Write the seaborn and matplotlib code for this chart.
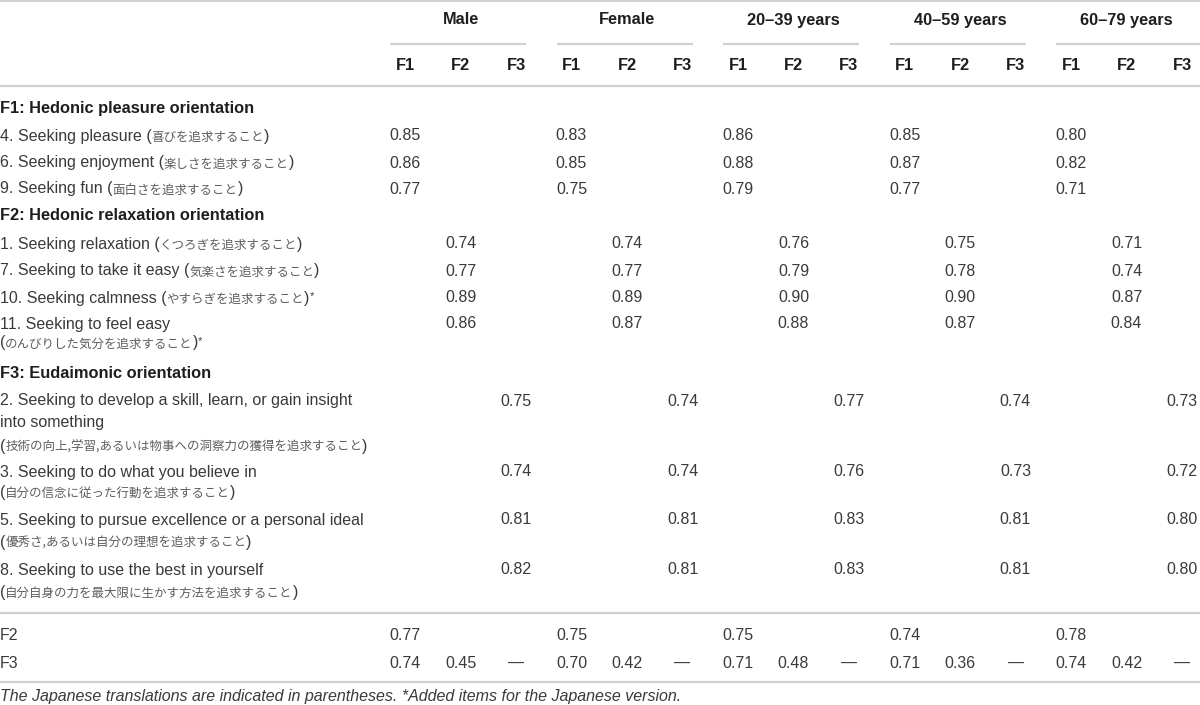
import matplotlib
matplotlib.use("Agg")
import matplotlib.pyplot as plt
import seaborn as sns

# table content
groups = ["Male", "Female", "20–39 years", "40–59 years", "60–79 years"]
factors = ["F1", "F2", "F3"]
sections = ["F1: Hedonic pleasure orientation",
            "F2: Hedonic relaxation orientation",
            "F3: Eudaimonic orientation"]

f1_items = ["4. Seeking pleasure", "6. Seeking enjoyment", "9. Seeking fun"]
f1_jp = ["喜びを追求すること", "楽しさを追求すること", "面白さを追求すること"]
f1_added = [False, False, False]
f1_load = [[0.85, 0.83, 0.86, 0.85, 0.80],
           [0.86, 0.85, 0.88, 0.87, 0.82],
           [0.77, 0.75, 0.79, 0.77, 0.71]]

f2_items = ["1. Seeking relaxation", "7. Seeking to take it easy",
            "10. Seeking calmness", "11. Seeking to feel easy"]
f2_jp = ["くつろぎを追求すること", "気楽さを追求すること",
         "やすらぎを追求すること", "のんびりした気分を追求すること"]
f2_added = [False, False, True, True]
f2_load = [[0.74, 0.74, 0.76, 0.75, 0.71],
           [0.77, 0.77, 0.79, 0.78, 0.74],
           [0.89, 0.89, 0.90, 0.90, 0.87],
           [0.86, 0.87, 0.88, 0.87, 0.84]]

f3_items = ["2. Seeking to develop a skill, learn, or gain insight\ninto something",
            "3. Seeking to do what you believe in",
            "5. Seeking to pursue excellence or a personal ideal",
            "8. Seeking to use the best in yourself"]
f3_jp = ["技術の向上,学習,あるいは物事への洞察力の獲得を追求すること",
         "自分の信念に従った行動を追求すること",
         "優秀さ,あるいは自分の理想を追求すること",
         "自分自身の力を最大限に生かす方法を追求すること"]
f3_added = [False, False, False, False]
f3_load = [[0.75, 0.74, 0.77, 0.74, 0.73],
           [0.74, 0.74, 0.76, 0.73, 0.72],
           [0.81, 0.81, 0.83, 0.81, 0.80],
           [0.82, 0.81, 0.83, 0.81, 0.80]]

corr_rows = ["F2", "F3"]
corr_with_f1 = [[0.77, 0.75, 0.75, 0.74, 0.78],
                [0.74, 0.70, 0.71, 0.71, 0.74]]
corr_f3_f2 = [0.45, 0.42, 0.48, 0.36, 0.42]

footnote = ("The Japanese translations are indicated in parentheses. "
            "*Added items for the Japanese version.")

sns.set_theme(style="white")
EN = ["Liberation Sans", "Noto Sans CJK JP"]
JP = ["Noto Sans CJK JP", "Liberation Sans"]
plt.rcParams["font.family"] = EN

TXT = "#3a3a3a"
HEAD = "#1e1e1e"
JPC = "#5e5e5e"
RULE = "#d0d0d0"
FS = 11.5
FS_BOLD = 11.8
FS_JP = 9
LINE = 22  # px between wrapped lines

fig = plt.figure(figsize=(12, 7.05), dpi=100)
ax = fig.add_axes([0, 0, 1, 1])
ax.set_xlim(0, 1200)
ax.set_ylim(705, 0)
ax.axis("off")
renderer = fig.canvas.get_renderer()


def col_x(g, k):
    return 405 + 166.5 * g + 55.5 * k


def hline(y, x0=0, x1=1200):
    ax.plot([x0, x1], [y, y], color=RULE, lw=1.6, solid_capstyle="butt")


def txt(x, y, s, **kw):
    # y is the visual middle of the text line; draw on a baseline below it
    opts = dict(fontsize=FS, color=TXT, va="baseline", family=EN)
    opts.update(kw)
    return ax.text(x, y + 5.5, s, **opts)


def bold(x, y, s, **kw):
    return txt(x, y, s, weight="bold", color=HEAD, fontsize=FS_BOLD, **kw)


def width(t):
    return t.get_window_extent(renderer).width


def item(y, en, jp, star, jp_y=None):
    lines = en.split("\n")
    if jp_y is None:
        t = txt(0, y, lines[0] + " (")
        x, yj = width(t), y
    else:
        for i, ln in enumerate(lines):
            txt(0, y + LINE * i, ln)
        t = txt(0, jp_y, "(")
        x, yj = width(t), jp_y
    j = txt(x, yj, jp, fontsize=FS_JP, family=JP, color=JPC)
    x += width(j)
    p = txt(x, yj, ")")
    if star:
        txt(x + width(p), yj - 3, "*", fontsize=8)


def loadings(y, row, k):
    for g, v in enumerate(row):
        txt(col_x(g, k), y, f"{v:.2f}", ha="center")


# header
hline(1)
for g, name in enumerate(groups):
    bold(col_x(g, 1), 19, name, ha="center")
    x1 = 1200 if g == len(groups) - 1 else col_x(g, 2) + 10
    hline(44, col_x(g, 0) - 15, x1)
    for k, f in enumerate(factors):
        bold(col_x(g, k), 65, f, ha="center")
hline(86)

# F1 section
bold(0, 108, sections[0])
for i, y in enumerate([135, 162, 188]):
    item(y, f1_items[i], f1_jp[i], f1_added[i])
    loadings(y, f1_load[i], 0)

# F2 section
bold(0, 215, sections[1])
f2_rows = [(243, None), (270, None), (297, None), (323, 342)]
for i, (y, yj) in enumerate(f2_rows):
    item(y, f2_items[i], f2_jp[i], f2_added[i], jp_y=yj)
    loadings(y, f2_load[i], 1)

# F3 section
bold(0, 373, sections[2])
f3_rows = [(400, 445), (471, 491), (519, 541), (569, 591)]
for i, (y, yj) in enumerate(f3_rows):
    item(y, f3_items[i], f3_jp[i], f3_added[i], jp_y=yj)
    loadings(y, f3_load[i], 2)
hline(613)

# factor correlations
for r, (label, y) in enumerate(zip(corr_rows, [634, 662])):
    txt(0, y, label)
    loadings(y, corr_with_f1[r], 0)
for g, v in enumerate(corr_f3_f2):
    txt(col_x(g, 1), 662, f"{v:.2f}", ha="center")
    txt(col_x(g, 2), 662, "—", ha="center")
hline(682)

txt(0, 695, footnote, style="italic", fontsize=11.5)

fig.savefig("out.png", dpi=100)
